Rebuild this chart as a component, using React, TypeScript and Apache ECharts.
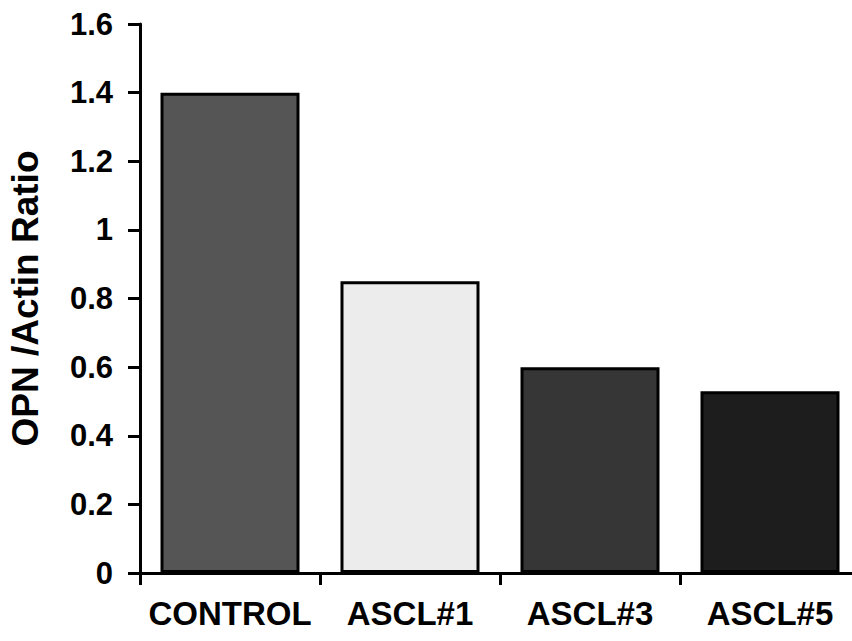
import React, { useEffect, useRef } from "react";
import * as echarts from "echarts";

const categories = ["CONTROL", "ASCL#1", "ASCL#3", "ASCL#5"];
const ratioValues = [1.4, 0.85, 0.6, 0.53];
const barColors = ["#555555", "#ececec", "#363636", "#1d1d1d"];
const yAxisTitle = "OPN /Actin Ratio";

const FONT = "'Liberation Sans', Arial, Helvetica, sans-serif";

export default function App() {
  const ref = useRef<HTMLDivElement>(null);
  useEffect(() => {
    document.body.style.margin = "0";
    if (!ref.current) return;
    const chart = echarts.init(ref.current, undefined, { renderer: "svg" });
    chart.setOption({
      animation: false,
      backgroundColor: "#ffffff",
      grid: {
        left: 140,
        top: 24,
        width: 720,
        height: 549,
        containLabel: false,
        outerBoundsMode: "none",
      },
      xAxis: {
        type: "category",
        data: categories,
        axisLine: { lineStyle: { color: "#000", width: 3 } },
        axisTick: {
          show: true,
          interval: 0,
          alignWithLabel: false,
          length: 12,
          lineStyle: { color: "#000", width: 3 },
        },
        axisLabel: {
          interval: 0,
          color: "#000",
          fontFamily: FONT,
          fontWeight: "bold",
          fontSize: 33,
          margin: 24,
        },
        splitLine: { show: false },
      },
      yAxis: {
        type: "value",
        min: 0,
        max: 1.6,
        interval: 0.2,
        name: yAxisTitle,
        nameLocation: "middle",
        nameGap: 96,
        nameTextStyle: {
          color: "#000",
          fontFamily: FONT,
          fontWeight: "bold",
          fontSize: 37,
        },
        axisLine: { show: true, lineStyle: { color: "#000", width: 3 } },
        axisTick: { show: true, length: 12, lineStyle: { color: "#000", width: 3 } },
        axisLabel: {
          color: "#000",
          fontFamily: FONT,
          fontWeight: "bold",
          fontSize: 31,
          margin: 27,
        },
        splitLine: { show: false },
      },
      series: [
        {
          type: "bar",
          data: ratioValues.map((v, i) => ({
            value: v,
            itemStyle: { color: barColors[i] },
          })),
          barWidth: 139,
          itemStyle: { borderColor: "#000", borderWidth: 3 },
        },
      ],
    });
    return () => chart.dispose();
  }, []);
  return <div ref={ref} style={{ width: 852, height: 641 }} />;
}
